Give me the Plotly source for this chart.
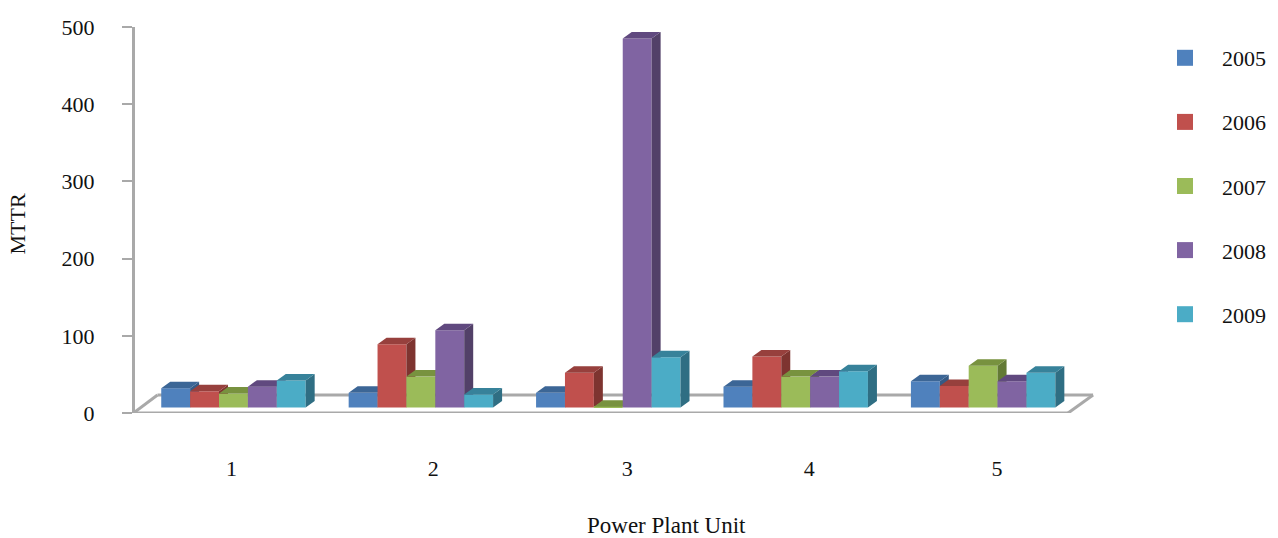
import plotly.graph_objects as go

# ---- data ----
units = [1, 2, 3, 4, 5]
years = ["2005", "2006", "2007", "2008", "2009"]
mttr_2005 = [25, 19, 19, 27, 34]
mttr_2006 = [21, 82, 45, 66, 28]
mttr_2007 = [18, 40, 1, 40, 54]
mttr_2008 = [27, 100, 478, 40, 34]
mttr_2009 = [35, 17, 65, 47, 45]
y_ticks = [0, 100, 200, 300, 400, 500]

series = [mttr_2005, mttr_2006, mttr_2007, mttr_2008, mttr_2009]

# ---- styling ----
front = ["#4F81BD", "#C0504D", "#9BBB59", "#8064A2", "#4BACC6"]
top = ["#3C6696", "#97403D", "#78923F", "#60497F", "#37829A"]
side = ["#355A85", "#7E3430", "#637A35", "#524068", "#2F6E83"]
grey = "#A9A9A9"
FONT = "Liberation Serif"

W, H = 1278, 538
L, R, T, B = 134.5, 0, 27, 125
PW = W - L - R
px_per_unit_x = 187.5
px_per_unit_y = (H - T - B) / 500
c1 = 233
x0 = 1 - (c1 - L) / px_per_unit_x
x1 = 1 + (W - R - c1) / px_per_unit_x
bar_w = 28.9 / px_per_unit_x
dx = 9 / px_per_unit_x
dy = 6.5 / px_per_unit_y
floor_base = 5.5 / px_per_unit_y          # bars stand mid-way on the floor
floor_back = 18 / px_per_unit_y
to_x = lambda p: 1 + (p - c1) / px_per_unit_x
label_x = [to_x(p) for p in (231, 433, 627, 809, 997)]

fig = go.Figure()

# floor (base subplot, under every bar)
fl_x = [to_x(133), to_x(1068), None, to_x(157), to_x(1093), None, to_x(133), to_x(157), None, to_x(1068), to_x(1093)]
fl_y = [0, 0, None, floor_back, floor_back, None, 0, floor_back, None, 0, floor_back]
fig.add_trace(go.Scatter(x=fl_x, y=fl_y, mode="lines", line=dict(color=grey, width=3),
                         showlegend=False, hoverinfo="skip", cliponaxis=False))

# legend entries
for s, year in enumerate(years):
    fig.add_trace(go.Scatter(x=[None], y=[None], mode="markers", name=year, legendgroup=year,
                             marker=dict(symbol="square", size=17, color=front[s])))

# one overlaid subplot per series, so later series paint over earlier ones
for s, (year, vals) in enumerate(zip(years, series)):
    n = s + 2
    xa, ya = f"x{n}", f"y{n}"
    xs = [u + (s - 2) * bar_w for u in units]
    fig.add_trace(go.Bar(x=xs, y=vals, base=floor_base, width=bar_w, name=year, legendgroup=year,
                         marker=dict(color=front[s], line=dict(width=0)),
                         showlegend=False, xaxis=xa, yaxis=ya))
    tx, ty, sx, sy = [], [], [], []
    for xc, v in zip(xs, vals):
        l, r = xc - bar_w / 2, xc + bar_w / 2
        t = floor_base + v
        tx += [l, l + dx, r + dx, r, l, None]
        ty += [t, t + dy, t + dy, t, t, None]
        sx += [r, r + dx, r + dx, r, r, None]
        sy += [floor_base, floor_base + dy, t + dy, t, floor_base, None]
    fig.add_trace(go.Scatter(x=sx, y=sy, mode="lines", fill="toself", fillcolor=side[s],
                             line=dict(width=0), showlegend=False, legendgroup=year,
                             hoverinfo="skip", xaxis=xa, yaxis=ya, cliponaxis=False))
    fig.add_trace(go.Scatter(x=tx, y=ty, mode="lines", fill="toself", fillcolor=top[s],
                             line=dict(width=0), showlegend=False, legendgroup=year,
                             hoverinfo="skip", xaxis=xa, yaxis=ya, cliponaxis=False))
    fig.update_layout({
        f"xaxis{n}": dict(overlaying="x", range=[x0, x1], visible=False, fixedrange=True),
        f"yaxis{n}": dict(overlaying="y", range=[0, 500], visible=False, fixedrange=True),
    })

fig.update_layout(
    width=W, height=H, margin=dict(l=L, r=R, t=T, b=B, pad=0),
    paper_bgcolor="white", plot_bgcolor="white",
    font=dict(family=FONT, size=22, color="#111111"),
    xaxis=dict(range=[x0, x1], tickmode="array", tickvals=label_x, ticktext=[str(u) for u in units],
               showgrid=False, zeroline=False, showline=False, ticks="",
               ticklabelstandoff=40, tickfont=dict(size=22), automargin=False),
    yaxis=dict(range=[0, 500], tickmode="array", tickvals=y_ticks, showgrid=False, zeroline=False,
               showline=True, linecolor=grey, linewidth=3, ticks="outside", ticklen=10,
               tickcolor=grey, tickwidth=2, ticklabelstandoff=23, automargin=False),
    legend=dict(x=(1271 - L) / PW, xref="paper", xanchor="right",
                y=1 - 10 / (H - T - B), yanchor="top", font=dict(size=22),
                tracegroupgap=32.5, itemwidth=64, bgcolor="rgba(0,0,0,0)",
                itemclick=False, itemdoubleclick=False),
    showlegend=True,
    annotations=[
        dict(text="Power Plant Unit", xref="paper", yref="paper", x=(666 - L) / PW, y=(413 - 525.5) / (H - T - B),
             xanchor="center", yanchor="middle", showarrow=False, font=dict(size=23)),
        dict(text="MTTR", xref="paper", yref="paper", x=(16 - L) / PW, y=(413 - 224) / (H - T - B),
             xanchor="center", yanchor="middle", showarrow=False, textangle=-90, font=dict(size=22)),
    ],
)

fig.write_html("out.html", post_script="document.body.style.margin='0'", config={"displayModeBar": False})
